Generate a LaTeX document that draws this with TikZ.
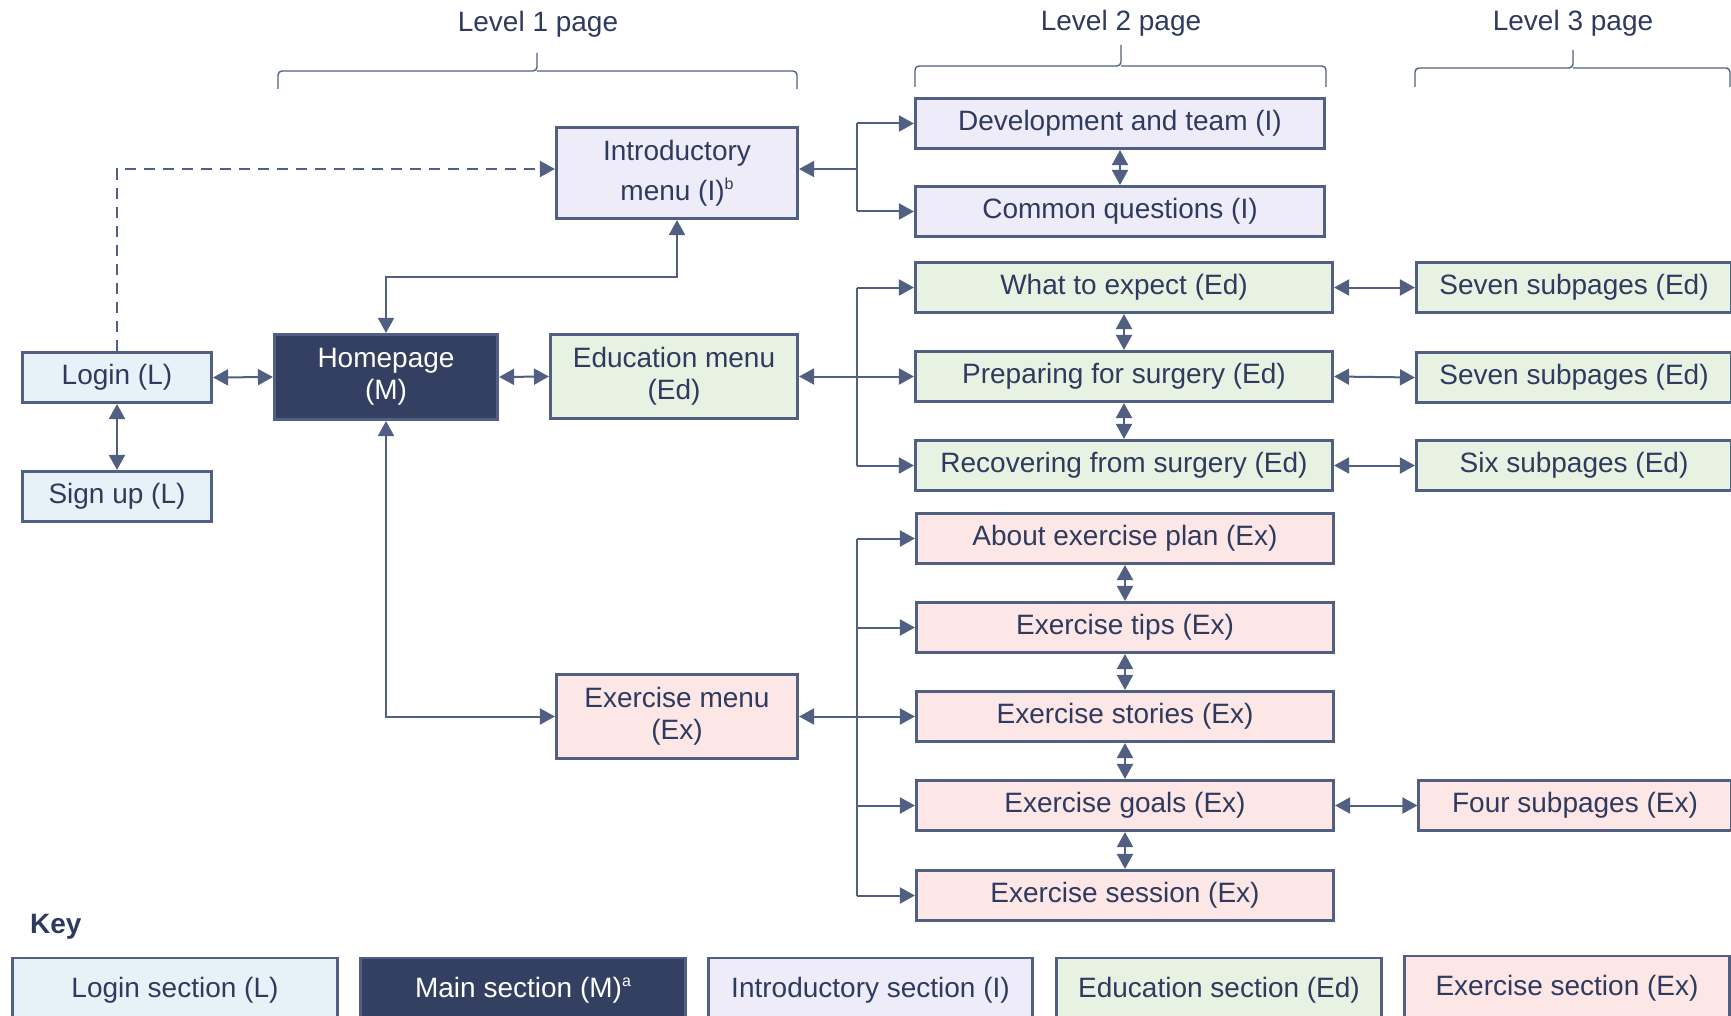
\documentclass[tikz,border=0pt]{standalone}
\usepackage{fontspec}
\setmainfont{Liberation Sans}
\usetikzlibrary{arrows.meta}
\definecolor{linec}{RGB}{81,96,130}
\definecolor{textc}{RGB}{47,59,94}
\definecolor{navy}{RGB}{52,64,98}
\definecolor{loginfill}{RGB}{231,241,248}
\definecolor{introfill}{RGB}{239,236,249}
\definecolor{edfill}{RGB}{232,242,227}
\definecolor{exfill}{RGB}{253,230,230}
\newcommand{\supmark}[1]{\raisebox{11pt}{\fontsize{16}{16}\selectfont #1}}
% strut with the font's full ascent and descent, so text sits centred in its box
\newcommand{\fullstrut}{\rule[-0.21em]{0pt}{0.905em}}

\begin{document}
\begin{tikzpicture}[x=1pt,y=-1pt,
  base/.style={draw=linec, line width=2.6pt, text=textc, align=center, inner sep=0pt,
               font=\fontsize{28}{32}\selectfont, minimum height=50.5pt,
               execute at begin node=\fullstrut, execute at end node=\fullstrut},
  loginbox/.style={base, fill=loginfill},
  mainbox/.style={base, fill=navy, text=white},
  introbox/.style={base, fill=introfill},
  edbox/.style={base, fill=edfill},
  exbox/.style={base, fill=exfill},
  conn/.style={draw=linec, line width=2pt},
  tip/.style={-{Triangle[length=15pt,width=16pt]}},
  dbl/.style={{Triangle[length=15pt,width=16pt]}-{Triangle[length=15pt,width=16pt]}},
  bracec/.style={draw=linec, line width=1.4pt, rounded corners=4pt},
  lbl/.style={text=textc, font=\fontsize{28}{32}\selectfont, inner sep=0pt},
]
\useasboundingbox (0,0) rectangle (1731,1016);

% ---- level headings and braces
\node[lbl] (lvlA) at (538,24) {Level 1 page};
\node[lbl] (lvlB) at (1121,23) {Level 2 page};
\node[lbl] (lvlC) at (1573,23) {Level 3 page};
\draw[bracec] (278,89) -- (278,71) -- (537,71) -- (537,53);
\draw[bracec] (797,89) -- (797,71) -- (537,71);
\draw[bracec] (915,87) -- (915,66) -- (1121,66) -- (1121,45);
\draw[bracec] (1326,87) -- (1326,66) -- (1121,66);
\draw[bracec] (1415,87) -- (1415,68) -- (1573,68) -- (1573,50);
\draw[bracec] (1730,87) -- (1730,68) -- (1573,68);

% ---- login section
\node[loginbox, minimum width=189.5pt] (login)  at (117,377.5) {Login (L)};
\node[loginbox, minimum width=189.5pt] (signup) at (117,496.5) {Sign up (L)};

% ---- main section
\node[mainbox, minimum width=223.5pt, minimum height=85.5pt] (home) at (386,377) {\fullstrut Homepage\\(M)};

% ---- level 1 menus
\node[introbox, minimum width=241.5pt, minimum height=91.5pt] (intro) at (677,173)
  {\fullstrut Introductory\\[8pt]menu (I)\supmark{b}};
\node[edbox, minimum width=247.5pt, minimum height=84.5pt] (edmenu) at (674,376.5) {\fullstrut Education menu\\(Ed)};
\node[exbox, minimum width=241.5pt, minimum height=84.5pt] (exmenu) at (677,716.5) {\fullstrut Exercise menu\\(Ex)};

% ---- level 2 pages
\node[introbox, minimum width=409.5pt] (dev) at (1120,123.5) {Development and team (I)};
\node[introbox, minimum width=409.5pt] (cq)  at (1120,211.5) {Common questions (I)};
\node[edbox, minimum width=417.5pt] (what) at (1124,287.5) {What to expect (Ed)};
\node[edbox, minimum width=417.5pt] (prep) at (1124,376.5) {Preparing for surgery (Ed)};
\node[edbox, minimum width=417.5pt] (rec)  at (1124,465.5) {Recovering from surgery (Ed)};
\node[exbox, minimum width=417.5pt] (about)   at (1125,538.5) {About exercise plan (Ex)};
\node[exbox, minimum width=417.5pt] (tips)    at (1125,627.5) {Exercise tips (Ex)};
\node[exbox, minimum width=417.5pt] (stories) at (1125,716.5) {Exercise stories (Ex)};
\node[exbox, minimum width=417.5pt] (goals)   at (1125,805.5) {Exercise goals (Ex)};
\node[exbox, minimum width=417.5pt] (session) at (1125,895.5) {Exercise session (Ex)};

% ---- level 3 pages
\node[edbox, minimum width=315.5pt] (sevenA) at (1574,287.5) {Seven subpages (Ed)};
\node[edbox, minimum width=315.5pt] (sevenB) at (1574,377.5) {Seven subpages (Ed)};
\node[edbox, minimum width=315.5pt] (six)    at (1574,465.5) {Six subpages (Ed)};
\node[exbox, minimum width=312.5pt] (four)   at (1575,805.5) {Four subpages (Ex)};

% ---- connectors around the homepage
\draw[conn, dbl] (login.east) -- (home.west);
\draw[conn, dbl] (login.south) -- (signup.north);
\draw[conn, dbl] (home.east) -- (edmenu.west);
\coordinate (hiA) at (530,277);
\draw[conn, dbl] (home.north) |- (hiA) -| (intro.south);
\draw[conn, dbl] (home.south) |- (exmenu.west);
\coordinate (dsh) at (300,169);
\draw[conn, tip, dash pattern=on 11pt off 8pt] (login.north) |- (dsh) -- (dsh -| intro.west);

% ---- buses from the menus to their pages
\coordinate (bI) at (857,169);
\coordinate (bE) at (857,376.5);
\coordinate (bX) at (857,716.5);
\draw[conn, tip] (bI) -- (bI -| intro.east);
\draw[conn] (bI |- dev.west) -- (bI |- cq.west);
\draw[conn, tip] (bI |- dev.west) -- (dev.west);
\draw[conn, tip] (bI |- cq.west) -- (cq.west);

\draw[conn, tip] (bE) -- (edmenu.east);
\draw[conn] (bE |- what.west) -- (bE |- rec.west);
\draw[conn, tip] (bE |- what.west) -- (what.west);
\draw[conn, tip] (bE |- prep.west) -- (prep.west);
\draw[conn, tip] (bE |- rec.west) -- (rec.west);

\draw[conn, tip] (bX) -- (exmenu.east);
\draw[conn] (bX |- about.west) -- (bX |- session.west);
\draw[conn, tip] (bX |- about.west) -- (about.west);
\draw[conn, tip] (bX |- tips.west) -- (tips.west);
\draw[conn, tip] (bX |- stories.west) -- (stories.west);
\draw[conn, tip] (bX |- goals.west) -- (goals.west);
\draw[conn, tip] (bX |- session.west) -- (session.west);

% ---- links between neighbouring pages
\draw[conn, dbl] (dev.south) -- (cq.north);
\draw[conn, dbl] (what.south) -- (prep.north);
\draw[conn, dbl] (prep.south) -- (rec.north);
\draw[conn, dbl] (about.south) -- (tips.north);
\draw[conn, dbl] (tips.south) -- (stories.north);
\draw[conn, dbl] (stories.south) -- (goals.north);
\draw[conn, dbl] (goals.south) -- (session.north);
\draw[conn, dbl] (what.east) -- (sevenA.west);
\draw[conn, dbl] (prep.east) -- (sevenB.west);
\draw[conn, dbl] (rec.east) -- (six.west);
\draw[conn, dbl] (goals.east) -- (four.west);

% ---- key
\node[lbl, anchor=west, font=\fontsize{28}{32}\selectfont\bfseries] (key) at (30,927) {Key};
\node[loginbox, minimum width=325.5pt, minimum height=64pt] (kL) at (175,990) {Login section (L)};
\node[mainbox, minimum width=325.5pt, minimum height=64pt] (kM) at (523,990) {Main section (M)\supmark{a}};
\node[introbox, minimum width=324.5pt, minimum height=64pt] (kI) at (870.5,990) {Introductory section (I)};
\node[edbox, minimum width=325.5pt, minimum height=64pt] (kE) at (1219,990) {Education section (Ed)};
\node[exbox, minimum width=325.5pt, minimum height=64pt] (kX) at (1567,988) {Exercise section (Ex)};
\end{tikzpicture}
\end{document}
